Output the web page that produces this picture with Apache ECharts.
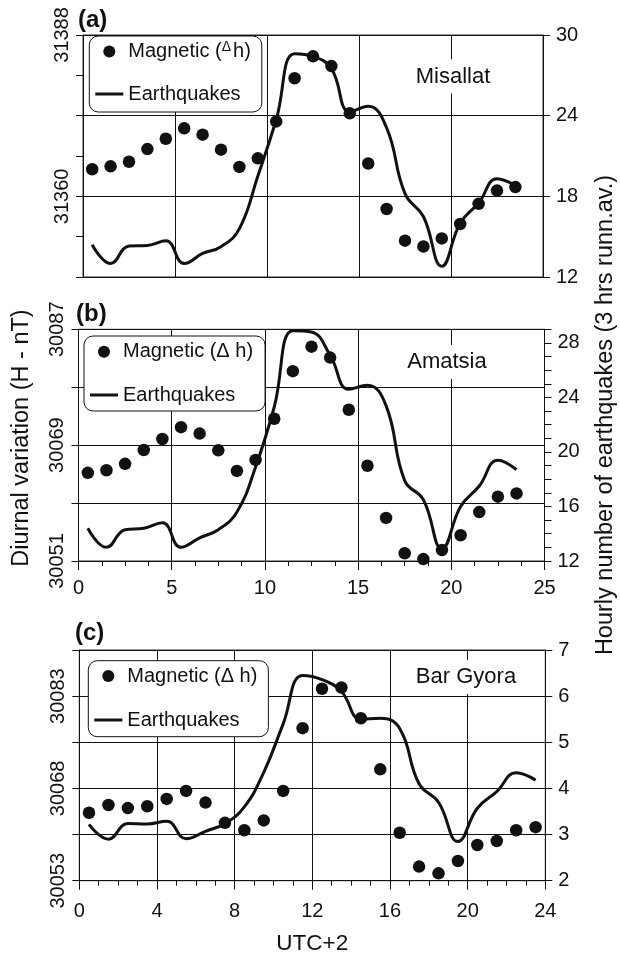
<!DOCTYPE html>
<html>
<head>
<meta charset="utf-8">
<script src="https://cdn.jsdelivr.net/npm/echarts@6/dist/echarts.min.js"></script>
<style>
  html, body { margin: 0; padding: 0; background: #fff; }
  #chart { width: 620px; height: 957px; }
</style>
</head>
<body>
<div id="chart"></div>
<script>
// Hour of day (UTC+2), centre of each hourly bin
const hours = [0.5, 1.5, 2.5, 3.5, 4.5, 5.5, 6.5, 7.5, 8.5, 9.5, 10.5, 11.5,
               12.5, 13.5, 14.5, 15.5, 16.5, 17.5, 18.5, 19.5, 20.5, 21.5, 22.5, 23.5];

// Misallat: diurnal H (nT) and hourly earthquakes (3 hrs running average)
const magMisallat = [31364.7, 31365.2, 31366.0, 31368.2, 31370.0, 31371.8, 31370.7, 31368.1,
                     31365.1, 31366.6, 31373.0, 31380.5, 31384.3, 31382.6, 31374.4, 31365.7,
                     31357.8, 31352.3, 31351.3, 31352.7, 31355.2, 31358.7, 31361.0, 31361.6];
const quakesMisallat = [14.4, 13.0, 14.3, 14.35, 14.7, 13.0, 13.75, 14.25, 15.6, 19.5, 23.7, 28.6,
                        28.4, 27.5, 24.3, 24.7, 23.1, 18.2, 16.5, 12.8, 16.0, 17.5, 19.3, 18.8];

// Amatsia
const magAmatsia = [30064.7, 30065.1, 30066.1, 30068.25, 30069.95, 30071.8, 30070.8, 30068.2,
                    30065.0, 30066.7, 30073.1, 30080.5, 30084.3, 30082.6, 30074.5, 30065.8,
                    30057.7, 30052.2, 30051.3, 30052.7, 30055.0, 30058.6, 30061.0, 30061.5];
const quakesAmatsia = [14.4, 13.0, 14.3, 14.4, 14.8, 13.0, 13.7, 14.3, 15.6, 18.9, 23.3, 28.9,
                       28.8, 27.1, 24.6, 24.9, 23.4, 17.9, 16.5, 12.9, 16.0, 17.5, 19.4, 18.7];

// Bar Gyora
const magBarGyora = [30064.05, 30065.3, 30064.8, 30065.1, 30066.3, 30067.6, 30065.7, 30062.4,
                     30061.2, 30062.8, 30067.6, 30077.8, 30084.2, 30084.4, 30079.4, 30071.1,
                     30060.8, 30055.3, 30054.2, 30056.2, 30058.8, 30059.45, 30061.2, 30061.7];
const quakesBarGyora = [3.22, 2.90, 3.24, 3.23, 3.29, 2.91, 3.07, 3.24, 3.6, 4.35, 5.4, 6.45,
                        6.36, 6.10, 5.50, 5.52, 5.30, 4.10, 3.70, 2.85, 3.57, 3.93, 4.34, 4.18];

// Tick labels printed on each axis
const magTicksMisallat = [31360, 31388];
const magTicksAmatsia = [30051, 30069, 30087];
const magTicksBarGyora = [30053, 30068, 30083];
const quakeTicksMisallat = [12, 18, 24, 30];
const quakeTicksAmatsia = [12, 16, 20, 24, 28];
const quakeTicksBarGyora = [2, 3, 4, 5, 6, 7];

const stations = ['Misallat', 'Amatsia', 'Bar Gyora'];
const panelTags = ['(a)', '(b)', '(c)'];

const FONT = '"Liberation Sans", Arial, Helvetica, sans-serif';
const INK = '#111';

const pairs = vals => hours.map((h, i) => [h, vals[i]]);
const pick = list => v => (list.some(t => Math.abs(t - v) < 1e-6) ? String(Math.round(v)) : '');

const grids = [
  { left: 83,   top: 35,    width: 460, height: 242 },
  { left: 78.5, top: 329.3, width: 466, height: 231.7 },
  { left: 79.3, top: 650,   width: 466, height: 230.7 }
];

function xAxisFor(gi, max, interval, labelled, margin) {
  return {
    gridIndex: gi, type: 'value', min: 0, max: max, interval: interval,
    axisLine: { show: true, onZero: false, lineStyle: { color: INK, width: 1 } },
    axisTick: { show: labelled, length: 9, lineStyle: { color: INK, width: 1 } },
    minorTick: { show: labelled, splitNumber: 4, length: 5, lineStyle: { color: INK, width: 1 } },
    axisLabel: { show: labelled, fontSize: 20, fontFamily: FONT, color: INK, margin: margin },
    splitLine: { show: true, lineStyle: { color: INK, width: 1 } }
  };
}

function magAxis(gi, min, max, interval, ticks, split) {
  return {
    gridIndex: gi, type: 'value', position: 'left', min: min, max: max, interval: interval,
    axisLine: { show: true, lineStyle: { color: INK, width: 1 } },
    axisTick: { show: true, length: 7, lineStyle: { color: INK, width: 1 } },
    axisLabel: { rotate: 90, fontSize: 20, fontFamily: FONT, color: INK, margin: 11,
                 formatter: pick(ticks) },
    splitLine: { show: split, lineStyle: { color: INK, width: 1 } }
  };
}

function quakeAxis(gi, min, max, interval, ticks, split) {
  return {
    gridIndex: gi, type: 'value', position: 'right', min: min, max: max, interval: interval,
    axisLine: { show: true, lineStyle: { color: INK, width: 1 } },
    axisTick: { show: true, length: 7, lineStyle: { color: INK, width: 1 } },
    axisLabel: { fontSize: 20, fontFamily: FONT, color: INK, margin: 13,
                 formatter: pick(ticks) },
    splitLine: { show: split, lineStyle: { color: INK, width: 1 } }
  };
}

function scatterSeries(name, xi, yi, vals) {
  return {
    name: name, type: 'scatter', xAxisIndex: xi, yAxisIndex: yi,
    data: pairs(vals), symbol: 'circle', symbolSize: 12.5,
    itemStyle: { color: INK, opacity: 1 }, z: 3, silent: true
  };
}

function lineSeries(name, xi, yi, vals) {
  return {
    name: name, type: 'line', xAxisIndex: xi, yAxisIndex: yi,
    data: pairs(vals), smooth: 0.45, symbol: 'none',
    lineStyle: { color: INK, width: 3 }, itemStyle: { color: INK }, z: 4, silent: true
  };
}

const LINE_ICON = 'path://M0,0L28,0L28,3L0,3Z';
const legendText = { fontSize: 20, fontFamily: FONT, color: INK, lineHeight: 20 };

function legendFor(magName, quakeName, left, top, padding, gap, superscript) {
  return {
    orient: 'vertical', left: left, top: top, padding: padding, itemGap: gap,
    itemWidth: 28, itemHeight: 12, itemTextGap: 5,
    backgroundColor: '#fff', borderColor: INK, borderWidth: 1, borderRadius: 9,
    selectedMode: false,
    data: [
      { name: magName, icon: 'circle', itemStyle: { color: INK, opacity: 1 } },
      { name: quakeName, icon: LINE_ICON, itemStyle: { color: INK } }
    ],
    formatter: n => n === magName
      ? (superscript ? '{t|Magnetic (}{s|Δ}{t|h)}' : 'Magnetic (Δ h)')
      : 'Earthquakes',
    textStyle: Object.assign({}, legendText, {
      rich: {
        t: { fontSize: 20, fontFamily: FONT, color: INK, lineHeight: 20 },
        s: { fontSize: 14, fontFamily: FONT, color: INK, lineHeight: 14, padding: [0, 2, 9, 0] }
      }
    })
  };
}

function stationLabel(text, cx, cy) {
  return {
    type: 'text', x: cx, y: cy, z: 10,
    style: { text: text, font: '22px ' + FONT, fill: INK, align: 'center', verticalAlign: 'middle',
             textAlign: 'center', textVerticalAlign: 'middle',
             backgroundColor: '#fff', padding: [6, 4] }
  };
}

function tagLabel(text, x, y) {
  return {
    type: 'text', x: x, y: y, z: 10,
    style: { text: text, font: 'bold 24px ' + FONT, fill: INK, align: 'left', verticalAlign: 'middle',
             textAlign: 'left', textVerticalAlign: 'middle' }
  };
}

function sideTitle(text, cx, cy, size) {
  return {
    type: 'text', x: cx, y: cy, rotation: Math.PI / 2, z: 10,
    style: { text: text, font: size + 'px ' + FONT, fill: INK, align: 'center', verticalAlign: 'middle',
             textAlign: 'center', textVerticalAlign: 'middle' }
  };
}

const option = {
  backgroundColor: '#fff',
  animation: false,
  grid: grids.map(g => Object.assign({ show: true, borderColor: '#333', borderWidth: 1,
                                       backgroundColor: 'transparent' }, g)),
  xAxis: [
    xAxisFor(0, 25, 5, false, 0),
    xAxisFor(1, 25, 5, true, 17),
    Object.assign(xAxisFor(2, 24, 4, true, 21), {
      name: 'UTC+2', nameLocation: 'middle', nameGap: 52,
      nameTextStyle: { fontSize: 22.5, fontFamily: FONT, color: INK }
    })
  ],
  yAxis: [
    magAxis(0, 31346, 31388, 7, magTicksMisallat, false),
    quakeAxis(0, 12, 30, 6, quakeTicksMisallat, true),
    magAxis(1, 30051, 30087, 9, magTicksAmatsia, true),
    quakeAxis(1, 12, 29, 1, quakeTicksAmatsia, false),
    magAxis(2, 30053, 30090.5, 7.5, magTicksBarGyora, false),
    quakeAxis(2, 2, 7, 1, quakeTicksBarGyora, true)
  ],
  legend: [
    legendFor('mag-a', 'quakes-a', 89.3, 36, [4, 11, 8, 6], 21, true),
    legendFor('mag-b', 'quakes-b', 84, 336, [5.7, 12, 6, 6], 23.3, false),
    legendFor('mag-c', 'quakes-c', 88.3, 660.7, [5.3, 11, 6.7, 6], 24, false)
  ],
  series: [
    scatterSeries('mag-a', 0, 0, magMisallat),
    lineSeries('quakes-a', 0, 1, quakesMisallat),
    scatterSeries('mag-b', 1, 2, magAmatsia),
    lineSeries('quakes-b', 1, 3, quakesAmatsia),
    scatterSeries('mag-c', 2, 4, magBarGyora),
    lineSeries('quakes-c', 2, 5, quakesBarGyora)
  ],
  graphic: [
    stationLabel(stations[0], 453, 76.5),
    stationLabel(stations[1], 447, 362),
    stationLabel(stations[2], 466, 677),
    tagLabel(panelTags[0], 78, 20),
    tagLabel(panelTags[1], 76, 314),
    tagLabel(panelTags[2], 75, 633),
    sideTitle('Diurnal variation (H - nT)', 22, 438, 23.5),
    sideTitle('Hourly number of earthquakes (3 hrs runn.av.)', 606, 415, 23.5)
  ]
};

const chart = echarts.init(document.getElementById('chart'), null, { renderer: 'canvas' });
chart.setOption(option);
</script>
</body>
</html>
